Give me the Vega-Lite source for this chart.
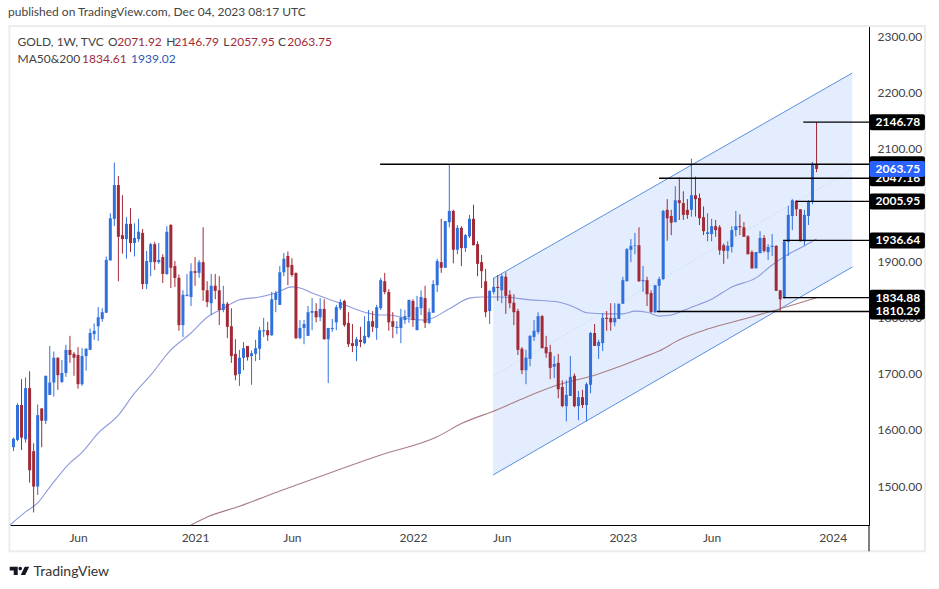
{"$schema":"https://vega.github.io/schema/vega-lite/v6.json","width":859,"height":499,"autosize":"none","padding":{"left":10,"top":26,"right":70,"bottom":64},"background":"white","view":{"stroke":null},
"title":{"text":"published on TradingView.com, Dec 04, 2023 08:17 UTC","anchor":"start","frame":"group","offset":6,"dx":-2,"font":"Lato","fontSize":12,"fontWeight":"normal","color":"#444444"},
"config":{"font":"Lato"},
"datasets":{"candles":[
{"d":"2020-02-10","o":1569,"h":1586,"l":1562,"c":1584},{"d":"2020-02-17","o":1582,"h":1647,"l":1580,"c":1644},{"d":"2020-02-24","o":1644,"h":1690,"l":1564,"c":1586},{"d":"2020-03-02","o":1583,"h":1693,"l":1577,"c":1674},{"d":"2020-03-09","o":1674,"h":1704,"l":1506,"c":1528},{"d":"2020-03-16","o":1562,"h":1576,"l":1453,"c":1499},{"d":"2020-03-23","o":1499,"h":1645,"l":1484,"c":1626},{"d":"2020-03-30","o":1638,"h":1638,"l":1569,"c":1616},{"d":"2020-04-06","o":1616,"h":1696,"l":1610,"c":1696},{"d":"2020-04-13","o":1662,"h":1749,"l":1662,"c":1684},
{"d":"2020-04-20","o":1684,"h":1739,"l":1659,"c":1728},{"d":"2020-04-27","o":1728,"h":1729,"l":1671,"c":1697},{"d":"2020-05-04","o":1685,"h":1724,"l":1683,"c":1701},{"d":"2020-05-11","o":1701,"h":1751,"l":1694,"c":1742},{"d":"2020-05-18","o":1742,"h":1767,"l":1719,"c":1733},{"d":"2020-05-25","o":1735,"h":1738,"l":1696,"c":1728},{"d":"2020-06-01","o":1733,"h":1747,"l":1673,"c":1681},{"d":"2020-06-08","o":1681,"h":1745,"l":1678,"c":1731},{"d":"2020-06-15","o":1731,"h":1745,"l":1705,"c":1744},{"d":"2020-06-22","o":1742,"h":1780,"l":1742,"c":1772},
{"d":"2020-06-29","o":1770,"h":1789,"l":1760,"c":1776},{"d":"2020-07-06","o":1784,"h":1818,"l":1758,"c":1800},{"d":"2020-07-13","o":1797,"h":1816,"l":1792,"c":1809},{"d":"2020-07-20","o":1808,"h":1908,"l":1808,"c":1902},{"d":"2020-07-27","o":1901,"h":1985,"l":1901,"c":1976},{"d":"2020-08-03","o":1975,"h":2075,"l":1962,"c":2035},{"d":"2020-08-10","o":2035,"h":2051,"l":1864,"c":1943},{"d":"2020-08-17","o":1946,"h":2017,"l":1913,"c":1939},{"d":"2020-08-24","o":1939,"h":1978,"l":1904,"c":1966},{"d":"2020-08-31","o":1966,"h":1994,"l":1916,"c":1932},
{"d":"2020-09-07","o":1932,"h":1967,"l":1908,"c":1941},{"d":"2020-09-14","o":1939,"h":1975,"l":1934,"c":1952},{"d":"2020-09-21","o":1950,"h":1957,"l":1850,"c":1859},{"d":"2020-09-28","o":1859,"h":1918,"l":1850,"c":1900},{"d":"2020-10-05","o":1898,"h":1932,"l":1873,"c":1930},{"d":"2020-10-12","o":1930,"h":1934,"l":1884,"c":1898},{"d":"2020-10-19","o":1898,"h":1932,"l":1895,"c":1902},{"d":"2020-10-26","o":1907,"h":1912,"l":1861,"c":1877},{"d":"2020-11-02","o":1877,"h":1962,"l":1875,"c":1952},{"d":"2020-11-09","o":1964,"h":1966,"l":1852,"c":1888},
{"d":"2020-11-16","o":1891,"h":1900,"l":1854,"c":1870},{"d":"2020-11-23","o":1870,"h":1876,"l":1776,"c":1786},{"d":"2020-11-30","o":1786,"h":1848,"l":1765,"c":1840},{"d":"2020-12-07","o":1838,"h":1877,"l":1837,"c":1840},{"d":"2020-12-14","o":1836,"h":1896,"l":1820,"c":1882},{"d":"2020-12-21","o":1882,"h":1907,"l":1856,"c":1879},{"d":"2020-12-28","o":1879,"h":1902,"l":1870,"c":1898},{"d":"2021-01-04","o":1898,"h":1960,"l":1829,"c":1848},{"d":"2021-01-11","o":1848,"h":1864,"l":1818,"c":1827},{"d":"2021-01-18","o":1825,"h":1877,"l":1804,"c":1856},
{"d":"2021-01-25","o":1856,"h":1877,"l":1832,"c":1847},{"d":"2021-02-01","o":1848,"h":1873,"l":1786,"c":1813},{"d":"2021-02-08","o":1813,"h":1856,"l":1809,"c":1824},{"d":"2021-02-15","o":1824,"h":1827,"l":1763,"c":1783},{"d":"2021-02-22","o":1784,"h":1816,"l":1719,"c":1731},{"d":"2021-03-01","o":1735,"h":1761,"l":1688,"c":1697},{"d":"2021-03-08","o":1699,"h":1742,"l":1678,"c":1728},{"d":"2021-03-15","o":1728,"h":1756,"l":1706,"c":1745},{"d":"2021-03-22","o":1749,"h":1749,"l":1723,"c":1729},{"d":"2021-03-29","o":1731,"h":1741,"l":1680,"c":1736},
{"d":"2021-04-05","o":1735,"h":1760,"l":1722,"c":1745},{"d":"2021-04-12","o":1744,"h":1783,"l":1724,"c":1777},{"d":"2021-04-19","o":1775,"h":1799,"l":1765,"c":1777},{"d":"2021-04-26","o":1777,"h":1792,"l":1758,"c":1768},{"d":"2021-05-03","o":1768,"h":1845,"l":1767,"c":1832},{"d":"2021-05-10","o":1831,"h":1847,"l":1809,"c":1843},{"d":"2021-05-17","o":1822,"h":1891,"l":1822,"c":1880},{"d":"2021-05-24","o":1880,"h":1914,"l":1873,"c":1904},{"d":"2021-05-31","o":1909,"h":1917,"l":1857,"c":1889},{"d":"2021-06-07","o":1893,"h":1905,"l":1872,"c":1875},
{"d":"2021-06-14","o":1879,"h":1879,"l":1761,"c":1763},{"d":"2021-06-21","o":1763,"h":1795,"l":1761,"c":1781},{"d":"2021-06-28","o":1781,"h":1795,"l":1752,"c":1788},{"d":"2021-07-05","o":1767,"h":1820,"l":1767,"c":1809},{"d":"2021-07-12","o":1808,"h":1834,"l":1777,"c":1811},{"d":"2021-07-19","o":1811,"h":1825,"l":1791,"c":1800},{"d":"2021-07-26","o":1800,"h":1834,"l":1793,"c":1815},{"d":"2021-08-02","o":1815,"h":1832,"l":1760,"c":1761},{"d":"2021-08-09","o":1761,"h":1781,"l":1683,"c":1781},{"d":"2021-08-16","o":1779,"h":1797,"l":1774,"c":1781},
{"d":"2021-08-23","o":1791,"h":1822,"l":1777,"c":1818},{"d":"2021-08-30","o":1816,"h":1832,"l":1813,"c":1827},{"d":"2021-09-06","o":1829,"h":1831,"l":1783,"c":1786},{"d":"2021-09-13","o":1790,"h":1809,"l":1747,"c":1752},{"d":"2021-09-20","o":1754,"h":1788,"l":1738,"c":1749},{"d":"2021-09-27","o":1749,"h":1765,"l":1722,"c":1761},{"d":"2021-10-04","o":1760,"h":1783,"l":1747,"c":1756},{"d":"2021-10-11","o":1754,"h":1802,"l":1752,"c":1767},{"d":"2021-10-18","o":1765,"h":1813,"l":1763,"c":1793},{"d":"2021-10-25","o":1793,"h":1811,"l":1774,"c":1783},
{"d":"2021-11-01","o":1781,"h":1822,"l":1760,"c":1818},{"d":"2021-11-08","o":1816,"h":1870,"l":1813,"c":1866},{"d":"2021-11-15","o":1864,"h":1879,"l":1841,"c":1845},{"d":"2021-11-22","o":1845,"h":1850,"l":1776,"c":1791},{"d":"2021-11-29","o":1793,"h":1809,"l":1763,"c":1783},{"d":"2021-12-06","o":1781,"h":1793,"l":1770,"c":1783},{"d":"2021-12-13","o":1781,"h":1815,"l":1754,"c":1799},{"d":"2021-12-20","o":1795,"h":1813,"l":1788,"c":1802},{"d":"2021-12-27","o":1800,"h":1831,"l":1790,"c":1831},{"d":"2022-01-03","o":1829,"h":1832,"l":1783,"c":1795},
{"d":"2022-01-10","o":1777,"h":1838,"l":1777,"c":1818},{"d":"2022-01-17","o":1816,"h":1848,"l":1804,"c":1836},{"d":"2022-01-24","o":1834,"h":1856,"l":1781,"c":1790},{"d":"2022-01-31","o":1790,"h":1816,"l":1788,"c":1809},{"d":"2022-02-07","o":1808,"h":1866,"l":1808,"c":1859},{"d":"2022-02-14","o":1857,"h":1904,"l":1845,"c":1900},{"d":"2022-02-21","o":1898,"h":1975,"l":1879,"c":1888},{"d":"2022-02-28","o":1888,"h":1971,"l":1888,"c":1971},{"d":"2022-03-07","o":1969,"h":2072,"l":1960,"c":1989},{"d":"2022-03-14","o":1989,"h":1991,"l":1896,"c":1920},
{"d":"2022-03-21","o":1920,"h":1964,"l":1912,"c":1959},{"d":"2022-03-28","o":1959,"h":1962,"l":1891,"c":1923},{"d":"2022-04-04","o":1923,"h":1948,"l":1916,"c":1946},{"d":"2022-04-11","o":1944,"h":1982,"l":1941,"c":1975},{"d":"2022-04-18","o":1975,"h":2000,"l":1928,"c":1928},{"d":"2022-04-25","o":1930,"h":1935,"l":1873,"c":1895},{"d":"2022-05-02","o":1898,"h":1911,"l":1852,"c":1882},{"d":"2022-05-09","o":1864,"h":1886,"l":1800,"c":1809},{"d":"2022-05-16","o":1811,"h":1848,"l":1788,"c":1847},{"d":"2022-05-23","o":1845,"h":1870,"l":1841,"c":1854},
{"d":"2022-05-30","o":1854,"h":1875,"l":1829,"c":1852},{"d":"2022-06-06","o":1848,"h":1877,"l":1825,"c":1873},{"d":"2022-06-13","o":1872,"h":1880,"l":1806,"c":1838},{"d":"2022-06-20","o":1840,"h":1848,"l":1816,"c":1825},{"d":"2022-06-27","o":1826,"h":1841,"l":1786,"c":1809},{"d":"2022-07-04","o":1811,"h":1815,"l":1733,"c":1742},{"d":"2022-07-11","o":1744,"h":1747,"l":1699,"c":1706},{"d":"2022-07-18","o":1706,"h":1742,"l":1681,"c":1728},{"d":"2022-07-25","o":1726,"h":1768,"l":1713,"c":1767},{"d":"2022-08-01","o":1765,"h":1795,"l":1758,"c":1776},
{"d":"2022-08-08","o":1774,"h":1809,"l":1770,"c":1802},{"d":"2022-08-15","o":1802,"h":1804,"l":1745,"c":1745},{"d":"2022-08-22","o":1747,"h":1767,"l":1728,"c":1736},{"d":"2022-08-29","o":1738,"h":1751,"l":1690,"c":1710},{"d":"2022-09-05","o":1712,"h":1731,"l":1692,"c":1717},{"d":"2022-09-12","o":1719,"h":1735,"l":1656,"c":1672},{"d":"2022-09-19","o":1676,"h":1688,"l":1640,"c":1642},{"d":"2022-09-26","o":1642,"h":1688,"l":1615,"c":1662},{"d":"2022-10-03","o":1660,"h":1731,"l":1660,"c":1694},{"d":"2022-10-10","o":1696,"h":1700,"l":1640,"c":1642},
{"d":"2022-10-17","o":1642,"h":1669,"l":1617,"c":1658},{"d":"2022-10-24","o":1658,"h":1671,"l":1639,"c":1644},{"d":"2022-10-31","o":1644,"h":1684,"l":1615,"c":1681},{"d":"2022-11-07","o":1680,"h":1774,"l":1665,"c":1772},{"d":"2022-11-14","o":1772,"h":1788,"l":1749,"c":1749},{"d":"2022-11-21","o":1749,"h":1760,"l":1726,"c":1756},{"d":"2022-11-28","o":1754,"h":1807,"l":1740,"c":1799},{"d":"2022-12-05","o":1799,"h":1811,"l":1776,"c":1797},{"d":"2022-12-12","o":1799,"h":1825,"l":1776,"c":1791},{"d":"2022-12-19","o":1791,"h":1825,"l":1784,"c":1799},
{"d":"2022-12-26","o":1797,"h":1824,"l":1797,"c":1824},{"d":"2023-01-02","o":1824,"h":1872,"l":1824,"c":1866},{"d":"2023-01-09","o":1864,"h":1923,"l":1864,"c":1921},{"d":"2023-01-16","o":1920,"h":1939,"l":1898,"c":1927},{"d":"2023-01-23","o":1927,"h":1950,"l":1912,"c":1928},{"d":"2023-01-30","o":1928,"h":1960,"l":1863,"c":1864},{"d":"2023-02-06","o":1864,"h":1891,"l":1845,"c":1866},{"d":"2023-02-13","o":1866,"h":1872,"l":1820,"c":1841},{"d":"2023-02-20","o":1843,"h":1848,"l":1808,"c":1809},{"d":"2023-02-27","o":1809,"h":1857,"l":1808,"c":1857},
{"d":"2023-03-06","o":1856,"h":1872,"l":1809,"c":1868},{"d":"2023-03-13","o":1868,"h":1991,"l":1866,"c":1989},{"d":"2023-03-20","o":1991,"h":2010,"l":1936,"c":1976},{"d":"2023-03-27","o":1980,"h":1991,"l":1946,"c":1968},{"d":"2023-04-03","o":1969,"h":2033,"l":1969,"c":2008},{"d":"2023-04-10","o":2008,"h":2049,"l":1973,"c":2003},{"d":"2023-04-17","o":2003,"h":2024,"l":1973,"c":1982},{"d":"2023-04-24","o":1991,"h":2010,"l":1975,"c":1982},{"d":"2023-05-01","o":1991,"h":2082,"l":1979,"c":2017},{"d":"2023-05-08","o":2017,"h":2050,"l":1979,"c":2010},
{"d":"2023-05-15","o":2012,"h":2020,"l":1964,"c":1976},{"d":"2023-05-22","o":1978,"h":1997,"l":1946,"c":1953},{"d":"2023-05-29","o":1948,"h":1985,"l":1935,"c":1951},{"d":"2023-06-05","o":1948,"h":1975,"l":1935,"c":1962},{"d":"2023-06-12","o":1962,"h":1973,"l":1943,"c":1955},{"d":"2023-06-19","o":1960,"h":1964,"l":1911,"c":1919},{"d":"2023-06-26","o":1928,"h":1931,"l":1895,"c":1918},{"d":"2023-07-03","o":1918,"h":1935,"l":1904,"c":1927},{"d":"2023-07-10","o":1925,"h":1962,"l":1915,"c":1955},{"d":"2023-07-17","o":1955,"h":1989,"l":1944,"c":1962},
{"d":"2023-07-24","o":1962,"h":1983,"l":1946,"c":1960},{"d":"2023-07-31","o":1960,"h":1969,"l":1943,"c":1943},{"d":"2023-08-07","o":1944,"h":1946,"l":1912,"c":1912},{"d":"2023-08-14","o":1916,"h":1919,"l":1886,"c":1887},{"d":"2023-08-21","o":1887,"h":1916,"l":1887,"c":1916},{"d":"2023-08-28","o":1914,"h":1953,"l":1914,"c":1941},{"d":"2023-09-04","o":1941,"h":1946,"l":1915,"c":1918},{"d":"2023-09-11","o":1916,"h":1930,"l":1902,"c":1925},{"d":"2023-09-18","o":1925,"h":1948,"l":1909,"c":1927},{"d":"2023-09-25","o":1927,"h":1928,"l":1847,"c":1847},
{"d":"2023-10-02","o":1848,"h":1848,"l":1810.3,"c":1832},{"d":"2023-10-09","o":1834.9,"h":1936.6,"l":1833,"c":1935},{"d":"2023-10-16","o":1934,"h":1998,"l":1909,"c":1982},{"d":"2023-10-23","o":1980,"h":2010,"l":1955,"c":2008},{"d":"2023-10-30","o":2007,"h":2008,"l":1980,"c":1992},{"d":"2023-11-06","o":1992,"h":1992,"l":1935,"c":1935},{"d":"2023-11-13","o":1935,"h":1991,"l":1928,"c":1982},{"d":"2023-11-20","o":1980,"h":2008,"l":1964,"c":2005},{"d":"2023-11-27","o":2005,"h":2076,"l":2001,"c":2072},{"d":"2023-12-04","o":2071.92,"h":2146.79,"l":2057.95,"c":2063.75}
]},
"encoding":{"x":{"field":"d","type":"temporal","scale":{"type":"time","domain":[{"year":2020,"month":2,"date":4,"utc":true},{"year":2024,"month":3,"date":4,"utc":true}],"nice":false,"padding":0},
"axis":{"values":[{"year":2020,"month":6,"date":1,"utc":true},{"year":2020,"month":12,"date":21,"utc":true},{"year":2021,"month":6,"date":7,"utc":true},{"year":2022,"month":1,"date":3,"utc":true},{"year":2022,"month":6,"date":6,"utc":true},{"year":2023,"month":1,"date":2,"utc":true},{"year":2023,"month":6,"date":5,"utc":true},{"year":2024,"month":1,"date":1,"utc":true}],"labelExpr":"utcmonth(datum.value)==5?'Jun':utcFormat(datum.value+1209600000,'%Y')","ticks":false,"grid":false,"domainColor":"#000000","domainWidth":1,"labelColor":"#444444","labelFont":"Lato","labelFontSize":12,"labelPadding":7,"labelFlush":false,"labelOverlap":false,"title":"TradingView","titleX":23,"titleY":46,"titleAlign":"left","titleBaseline":"middle","titleFont":"Lato","titleFontSize":14,"titleFontWeight":"normal","titleColor":"#333333"}},
"y":{"field":"p","type":"quantitative","scale":{"domain":[1430.7,2317.8],"zero":false,"nice":false},"axis":{"orient":"right","values":[1500,1600,1700,1800,1900,2100,2200,2300],"format":".2f","ticks":false,"grid":false,"domainColor":"#000000","domainWidth":1,"labelColor":"#444444","labelFont":"Lato","labelFontSize":12,"labelPadding":8,"title":null}}},
"layer":[
{"data":{"values":[{"d":"2020-02-03","d2":"2024-06-09","p":2317.8,"p2":1384}]},"mark":{"type":"rect","fill":null,"stroke":"#ececec","strokeWidth":2},"encoding":{"x2":{"field":"d2"},"y2":{"field":"p2"}}},
{"data":{"values":[{"d":"2024-03-04","p":1430.7,"p2":1384}]},"mark":{"type":"rule","color":"#000000","strokeWidth":1},"encoding":{"y2":{"field":"p2"}}},
{"data":{"values":[{"d":"2022-05-22","p":1868.9,"p2":1519.6},{"d":"2024-02-04","p":2234.2,"p2":1889.3}]},"mark":{"type":"area","color":"#e3edfd","opacity":1},"encoding":{"y2":{"field":"p2"}}},
{"data":{"values":[{"d":"2022-05-22","p":1695.6},{"d":"2024-02-04","p":2062.7}]},"mark":{"type":"line","color":"#cfdcf3","strokeWidth":1,"strokeDash":[2,2]}},
{"data":{"values":[{"s":"u","d":"2022-05-22","p":1868.9},{"s":"u","d":"2024-02-04","p":2234.2},{"s":"l","d":"2022-05-22","p":1519.6},{"s":"l","d":"2024-02-04","p":1889.3}]},"mark":{"type":"line","color":"#5b8fe0","strokeWidth":1},"encoding":{"detail":{"field":"s"}}},
{"data":{"values":[{"d":"2020-12-14","p":1430.7},{"d":"2021-01-11","p":1445},{"d":"2021-03-08","p":1464},{"d":"2021-05-17","p":1491},{"d":"2021-08-02","p":1519.6},{"d":"2021-11-08","p":1555},{"d":"2022-02-14","p":1587.6},{"d":"2022-03-28","p":1611},{"d":"2022-05-30","p":1636},{"d":"2022-07-18","p":1658},{"d":"2022-09-12","p":1680},{"d":"2022-11-14","p":1697},{"d":"2022-12-26","p":1712},{"d":"2023-02-06","p":1729},{"d":"2023-03-06","p":1740},{"d":"2023-04-10","p":1760},{"d":"2023-05-29","p":1779},{"d":"2023-07-31","p":1797},{"d":"2023-09-25","p":1813},{"d":"2023-12-04","p":1834.61}]},"mark":{"type":"line","color":"#ab7d86","strokeWidth":1.1,"interpolate":"monotone"}},
{"data":{"values":[{"d":"2020-02-04","p":1430.7},{"d":"2020-03-02","p":1454},{"d":"2020-03-23","p":1470},{"d":"2020-04-13","p":1498},{"d":"2020-05-18","p":1541},{"d":"2020-06-08","p":1560},{"d":"2020-07-06","p":1594},{"d":"2020-08-10","p":1626},{"d":"2020-09-07","p":1665},{"d":"2020-10-05","p":1697},{"d":"2020-11-09","p":1742},{"d":"2020-12-14","p":1772},{"d":"2021-01-11","p":1800},{"d":"2021-02-08","p":1816},{"d":"2021-03-08","p":1831},{"d":"2021-04-12","p":1836},{"d":"2021-05-10","p":1843},{"d":"2021-06-07","p":1854},{"d":"2021-06-21","p":1852},{"d":"2021-07-12","p":1843},{"d":"2021-08-30","p":1825},{"d":"2021-10-11","p":1809},{"d":"2021-11-08","p":1804},{"d":"2021-11-22","p":1804},{"d":"2021-12-27","p":1797},{"d":"2022-01-24","p":1795},{"d":"2022-03-07","p":1815},{"d":"2022-04-11","p":1834},{"d":"2022-05-02","p":1836},{"d":"2022-06-06","p":1836},{"d":"2022-07-25","p":1831},{"d":"2022-09-12","p":1827},{"d":"2022-10-10","p":1818},{"d":"2022-10-31","p":1808},{"d":"2022-12-05","p":1806},{"d":"2023-01-02","p":1806},{"d":"2023-01-23","p":1811},{"d":"2023-02-13","p":1809},{"d":"2023-03-06","p":1802},{"d":"2023-03-27","p":1804},{"d":"2023-05-01","p":1818},{"d":"2023-06-05","p":1832},{"d":"2023-07-10","p":1854},{"d":"2023-08-21","p":1870},{"d":"2023-09-18","p":1893},{"d":"2023-10-16","p":1912},{"d":"2023-11-13","p":1927},{"d":"2023-12-04","p":1939.02}]},"mark":{"type":"line","color":"#8d9ade","strokeWidth":1.1,"interpolate":"monotone"}},
{"data":{"name":"candles"},"mark":{"type":"rule","strokeWidth":1},"encoding":{"y":{"field":"l","type":"quantitative","scale":{"domain":[1430.7,2317.8],"zero":false,"nice":false},"axis":{"orient":"right","values":[1500,1600,1700,1800,1900,2100,2200,2300],"format":".2f","ticks":false,"grid":false,"domainColor":"#000000","domainWidth":1,"labelColor":"#444444","labelFont":"Lato","labelFontSize":12,"labelPadding":8,"title":null}},"y2":{"field":"h"},"color":{"condition":{"test":"datum.c>=datum.o","value":"#3070dc"},"value":"#a22a37"}}},
{"data":{"name":"candles"},"mark":{"type":"bar","size":3},"encoding":{"y":{"field":"o","type":"quantitative","scale":{"domain":[1430.7,2317.8],"zero":false,"nice":false},"axis":{"orient":"right","values":[1500,1600,1700,1800,1900,2100,2200,2300],"format":".2f","ticks":false,"grid":false,"domainColor":"#000000","domainWidth":1,"labelColor":"#444444","labelFont":"Lato","labelFontSize":12,"labelPadding":8,"title":null}},"y2":{"field":"c"},"color":{"condition":{"test":"datum.c>=datum.o","value":"#3070dc"},"value":"#a22a37"}}},
{"data":{"values":[{"d":"2021-11-07","d2":"2024-03-04","p":2072},{"d":"2023-03-06","d2":"2024-03-04","p":2047.16},{"d":"2023-11-11","d2":"2024-03-04","p":2146.78},{"d":"2023-10-30","d2":"2024-03-04","p":2005.95},{"d":"2023-10-07","d2":"2024-03-04","p":1936.64},{"d":"2023-10-07","d2":"2024-03-04","p":1834.88},{"d":"2023-03-02","d2":"2024-03-04","p":1810.29}]},"mark":{"type":"rule","color":"#000000","strokeWidth":1.3},"encoding":{"x2":{"field":"d2"}}},
{"data":{"values":[{"d":"2024-03-05","d2":"2024-06-09","p":2086.2,"p2":2057.8},{"d":"2024-03-05","d2":"2024-06-09","p":2061.4,"p2":2033},{"d":"2024-03-05","d2":"2024-06-09","p":2161,"p2":2132.6},{"d":"2024-03-05","d2":"2024-06-09","p":2020.2,"p2":1991.7},{"d":"2024-03-05","d2":"2024-06-09","p":1950.8,"p2":1922.4},{"d":"2024-03-05","d2":"2024-06-09","p":1849.1,"p2":1820.7},{"d":"2024-03-05","d2":"2024-06-09","p":1824.5,"p2":1796.1}]},"mark":{"type":"rect","color":"#000000","cornerRadius":2},"encoding":{"x2":{"field":"d2"},"y2":{"field":"p2"}}},
{"data":{"values":[{"d":"2024-04-23","p":2047.16,"t":"2047.16"},{"d":"2024-04-23","p":2146.78,"t":"2146.78"},{"d":"2024-04-23","p":2005.95,"t":"2005.95"},{"d":"2024-04-23","p":1936.64,"t":"1936.64"},{"d":"2024-04-23","p":1834.88,"t":"1834.88"},{"d":"2024-04-23","p":1810.29,"t":"1810.29"}]},"mark":{"type":"text","color":"#ffffff","font":"Lato","fontSize":12,"fontWeight":"bold","align":"center","baseline":"middle"},"encoding":{"text":{"field":"t"}}},
{"data":{"values":[{"d":"2024-03-05","d2":"2024-06-09","p":2078,"p2":2049.5}]},"mark":{"type":"rect","color":"#2962ff","cornerRadius":2},"encoding":{"x2":{"field":"d2"},"y2":{"field":"p2"}}},
{"data":{"values":[{"d":"2024-04-23","p":2063.75,"t":"2063.75"}]},"mark":{"type":"text","color":"#ffffff","font":"Lato","fontSize":12,"fontWeight":"bold","align":"center","baseline":"middle"},"encoding":{"text":{"field":"t"}}},
{"data":{"values":[{"d":"2020-02-17","p":2289.3,"t":"GOLD, 1W, TVC","k":"#444444"},{"d":"2020-07-23","p":2289.3,"t":"O","k":"#444444"},{"d":"2020-08-08","p":2289.3,"t":"2071.92","k":"#a22a37"},{"d":"2020-11-01","p":2289.3,"t":"H","k":"#444444"},{"d":"2020-11-15","p":2289.3,"t":"2146.79","k":"#a22a37"},{"d":"2021-02-08","p":2289.3,"t":"L","k":"#444444"},{"d":"2021-02-20","p":2289.3,"t":"2057.95","k":"#a22a37"},{"d":"2021-05-14","p":2289.3,"t":"C","k":"#444444"},{"d":"2021-05-30","p":2289.3,"t":"2063.75","k":"#a22a37"},{"d":"2020-02-17","p":2259.1,"t":"MA50&200","k":"#444444"},{"d":"2020-06-08","p":2259.1,"t":"1834.61","k":"#a22a37"},{"d":"2020-09-01","p":2259.1,"t":"1939.02","k":"#2a56b8"}]},"mark":{"type":"text","font":"Lato","fontSize":12,"align":"left","baseline":"middle"},"encoding":{"text":{"field":"t"},"color":{"field":"k","type":"nominal","scale":null,"legend":null}}},
{"data":{"values":[{"d":"2020-02-20","p":1348.9}]},"mark":{"type":"point","shape":"M-0.95 -0.43H-0.15V0.4H-0.55V-0.05H-0.95ZM-0.08 -0.25A0.18 0.18 0 1 0 0.28 -0.25A0.18 0.18 0 1 0 -0.08 -0.25ZM0.55 -0.43H1L0.6 0.4H0.15Z","size":400,"filled":true,"color":"#131722","opacity":1}}
]}
